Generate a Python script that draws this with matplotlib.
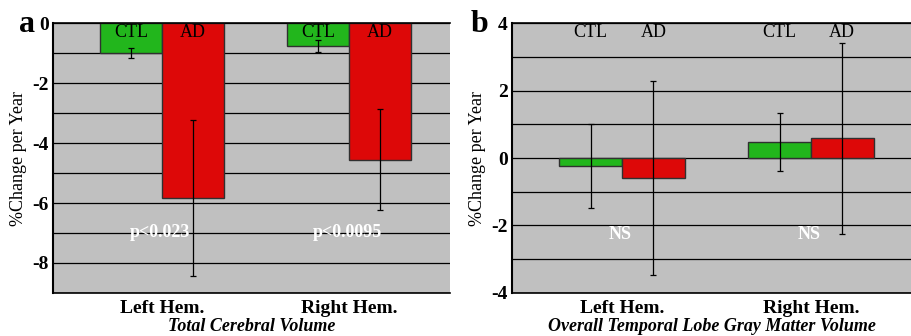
import numpy as np
import matplotlib.pyplot as plt

# hemispheres and group values (% change per year)
hemispheres = ['Left Hem.', 'Right Hem.']
groups = ['CTL', 'AD']

cerebral_ctl = [-1.0, -0.77]
cerebral_ctl_err = [0.16, 0.20]
cerebral_ad = [-5.83, -4.56]
cerebral_ad_err = [2.6, 1.68]
cerebral_p = ['p<0.023', 'p<0.0095']

temporal_ctl = [-0.23, 0.47]
temporal_ctl_err = [1.25, 0.85]
temporal_ad = [-0.59, 0.59]
temporal_ad_err = [2.88, 2.83]
temporal_p = ['NS', 'NS']

plt.rcParams['font.family'] = ['Liberation Serif', 'DejaVu Serif']

green = '#22b61c'
red = '#dd0808'
bg = '#c0c0c0'
w = 0.332


def panel(ax, ctl, ctl_err, ad, ad_err, ptext, ylim, yticks, label_y, p_y, xlabel):
    x = np.arange(len(hemispheres))
    ax.set_facecolor(bg)
    for yy in np.arange(ylim[0], ylim[1] + 1):
        ax.axhline(yy, color='black', lw=0.9, zorder=1)
    ax.bar(x - w / 2, ctl, w, color=green, edgecolor='#303030', lw=1, zorder=2)
    ax.bar(x + w / 2, ad, w, color=red, edgecolor='#303030', lw=1, zorder=2)
    ax.errorbar(x - w / 2, ctl, yerr=ctl_err, fmt='none', ecolor='black',
                elinewidth=0.9, capsize=2, capthick=0.9, zorder=3)
    ax.errorbar(x + w / 2, ad, yerr=ad_err, fmt='none', ecolor='black',
                elinewidth=0.9, capsize=2, capthick=0.9, zorder=3)
    for i in x:
        ax.text(i - w / 2, label_y, groups[0], ha='center', va='center',
                fontsize=13, zorder=4)
        ax.text(i + w / 2, label_y, groups[1], ha='center', va='center',
                fontsize=13, zorder=4)
        ax.text(i - 0.01, p_y, ptext[i], ha='center', va='center', color='white',
                fontsize=13, fontweight='bold', zorder=4)
    ax.set_xlim(-0.583, 1.54)
    ax.set_ylim(*ylim)
    ax.set_yticks(yticks)
    ax.set_yticklabels([str(int(t)) for t in yticks], fontsize=14, fontweight='bold')
    ax.set_xticks(x)
    ax.set_xticklabels(hemispheres, fontsize=14, fontweight='bold')
    ax.tick_params(axis='both', length=0, pad=3)
    ax.tick_params(axis='x', pad=5)
    ax.set_ylabel('%Change per Year', fontsize=13, labelpad=4)
    ax.set_xlabel(xlabel, fontsize=13, fontweight='bold', style='italic', labelpad=1)
    ax.spines['right'].set_visible(False)
    ax.spines['left'].set_linewidth(1.5)
    ax.spines['bottom'].set_linewidth(1.2)
    ax.spines['top'].set_linewidth(1.2)


fig = plt.figure(figsize=(9.11, 3.36), dpi=100)
ax1 = fig.add_axes([0.0582, 0.128, 0.436, 0.8035])
ax2 = fig.add_axes([0.562, 0.128, 0.44, 0.8035])

panel(ax1, cerebral_ctl, cerebral_ctl_err, cerebral_ad, cerebral_ad_err, cerebral_p,
      (-9, 0), [0, -2, -4, -6, -8], -0.3, -7.0, 'Total Cerebral Volume')
panel(ax2, temporal_ctl, temporal_ctl_err, temporal_ad, temporal_ad_err, temporal_p,
      (-4, 4), [4, 2, 0, -2, -4], 3.73, -2.27,
      'Overall Temporal Lobe Gray Matter Volume')

fig.text(0.03, 0.905, 'a', fontsize=23, fontweight='bold', ha='center', va='baseline')
fig.text(0.526, 0.905, 'b', fontsize=23, fontweight='bold', ha='center', va='baseline')

fig.savefig('out.png', dpi=100)
